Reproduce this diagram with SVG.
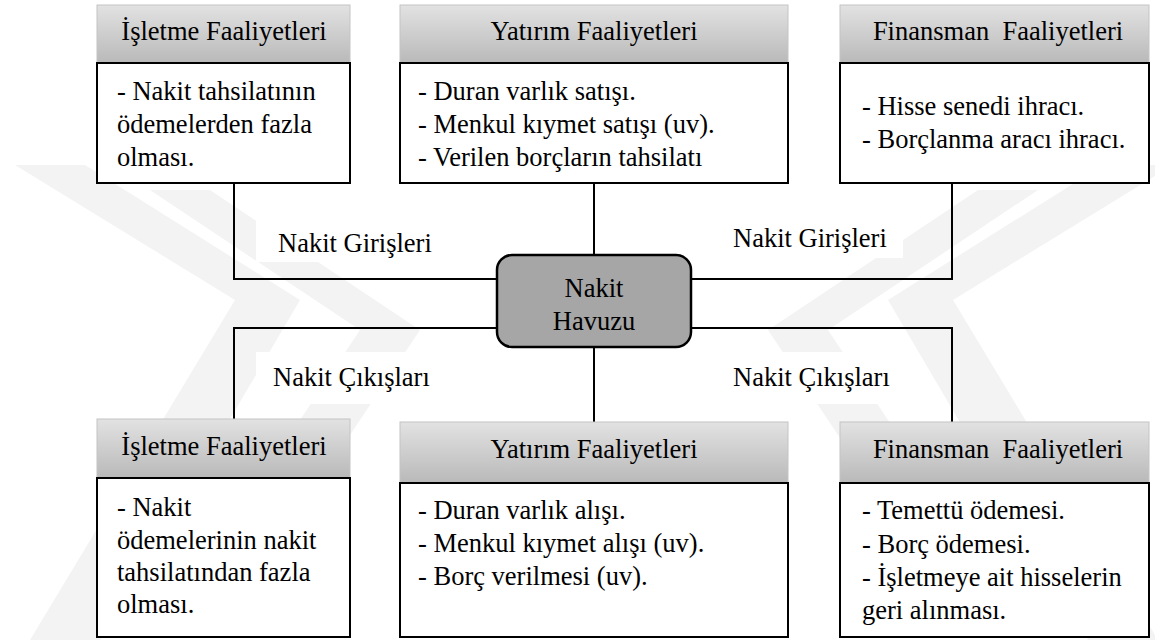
<svg xmlns="http://www.w3.org/2000/svg" width="1155" height="642" viewBox="0 0 1155 642">
<defs>
<linearGradient id="hdr" x1="0" y1="0" x2="0" y2="1">
<stop offset="0" stop-color="#e2e2e2"/>
<stop offset="1" stop-color="#b9b9b9"/>
</linearGradient>
<style>
text{font-family:"Liberation Serif","Times New Roman",serif;font-size:26.5px;fill:#000;white-space:pre}
.hdr{fill:url(#hdr);stroke:#c4c4c4;stroke-width:1}
.body{fill:#fff;stroke:#000;stroke-width:2}
.c{text-anchor:middle}
.wm{fill:#f3f3f3}
.lbl{fill:#fff}
.conn{fill:none;stroke:#000;stroke-width:2}
</style>
</defs>
<rect width="1155" height="642" fill="#fff"/>
<g id="watermark">
<polygon class="wm" points="15,165 85,165 300,300 100,640 30,640 235,300"/>
<polygon class="wm" points="1173,165 1103,165 888,300 1088,640 1158,640 953,300"/>
<polygon class="wm" points="150,190 210,190 420,330 240,600 180,600 360,330"/>
<polygon class="wm" points="1038,190 978,190 768,330 948,600 1008,600 828,330"/>
</g>
<g id="labels-bg">
<rect class="lbl" x="256" y="217" width="194" height="45"/>
<rect class="lbl" x="713" y="212" width="190" height="46"/>
<rect class="lbl" x="256" y="352" width="194" height="52"/>
<rect class="lbl" x="713" y="352" width="190" height="52"/>
</g>
<g id="connectors">
<path class="conn" d="M234,183 V279 H497"/>
<path class="conn" d="M594,183 V255"/>
<path class="conn" d="M952,183 V279 H691"/>
<path class="conn" d="M234,419 V328 H497"/>
<path class="conn" d="M594,347 V422"/>
<path class="conn" d="M952,422 V328 H691"/>
</g>
<g id="label-texts">
<text x="278" y="252">Nakit Girişleri</text>
<text x="733" y="247">Nakit Girişleri</text>
<text x="273" y="386">Nakit Çıkışları</text>
<text x="733" y="386">Nakit Çıkışları</text>
</g>
<g id="top-isletme">
<rect class="hdr" x="97" y="5" width="253" height="58"/>
<rect class="body" x="97" y="63" width="253" height="120"/>
<text class="c" x="224" y="40">İşletme Faaliyetleri</text>
<text x="117" y="100">- Nakit tahsilatının</text>
<text x="117" y="133">ödemelerden fazla</text>
<text x="117" y="166">olması.</text>
</g>
<g id="top-yatirim">
<rect class="hdr" x="400" y="5" width="388" height="58"/>
<rect class="body" x="400" y="63" width="388" height="120"/>
<text class="c" x="594" y="40">Yatırım Faaliyetleri</text>
<text x="418" y="100">- Duran varlık satışı.</text>
<text x="418" y="133">- Menkul kıymet satışı (uv).</text>
<text x="418" y="166">- Verilen borçların tahsilatı</text>
</g>
<g id="top-finansman">
<rect class="hdr" x="840" y="5" width="309" height="58"/>
<rect class="body" x="840" y="63" width="309" height="120"/>
<text class="c" x="998" y="40">Finansman  Faaliyetleri</text>
<text x="862" y="115">- Hisse senedi ihracı.</text>
<text x="862" y="148">- Borçlanma aracı ihracı.</text>
</g>
<g id="nakit-havuzu">
<rect x="497" y="255" width="194" height="92" rx="15" fill="#a6a6a6" stroke="#000" stroke-width="2.5"/>
<text class="c" x="594" y="297">Nakit</text>
<text class="c" x="594" y="330">Havuzu</text>
</g>
<g id="bottom-isletme">
<rect class="hdr" x="97" y="419" width="253" height="59"/>
<rect class="body" x="97" y="478" width="253" height="159"/>
<text class="c" x="224" y="455">İşletme Faaliyetleri</text>
<text x="117" y="516">- Nakit</text>
<text x="117" y="549">ödemelerinin nakit</text>
<text x="117" y="581">tahsilatından fazla</text>
<text x="117" y="613">olması.</text>
</g>
<g id="bottom-yatirim">
<rect class="hdr" x="400" y="422" width="388" height="61"/>
<rect class="body" x="400" y="483" width="388" height="154"/>
<text class="c" x="594" y="458">Yatırım Faaliyetleri</text>
<text x="418" y="519">- Duran varlık alışı.</text>
<text x="418" y="552">- Menkul kıymet alışı (uv).</text>
<text x="418" y="585">- Borç verilmesi (uv).</text>
</g>
<g id="bottom-finansman">
<rect class="hdr" x="840" y="422" width="309" height="61"/>
<rect class="body" x="840" y="483" width="309" height="154"/>
<text class="c" x="998" y="458">Finansman  Faaliyetleri</text>
<text x="862" y="519">- Temettü ödemesi.</text>
<text x="862" y="553">- Borç ödemesi.</text>
<text x="862" y="586">- İşletmeye ait hisselerin</text>
<text x="862" y="619">geri alınması.</text>
</g>
</svg>
